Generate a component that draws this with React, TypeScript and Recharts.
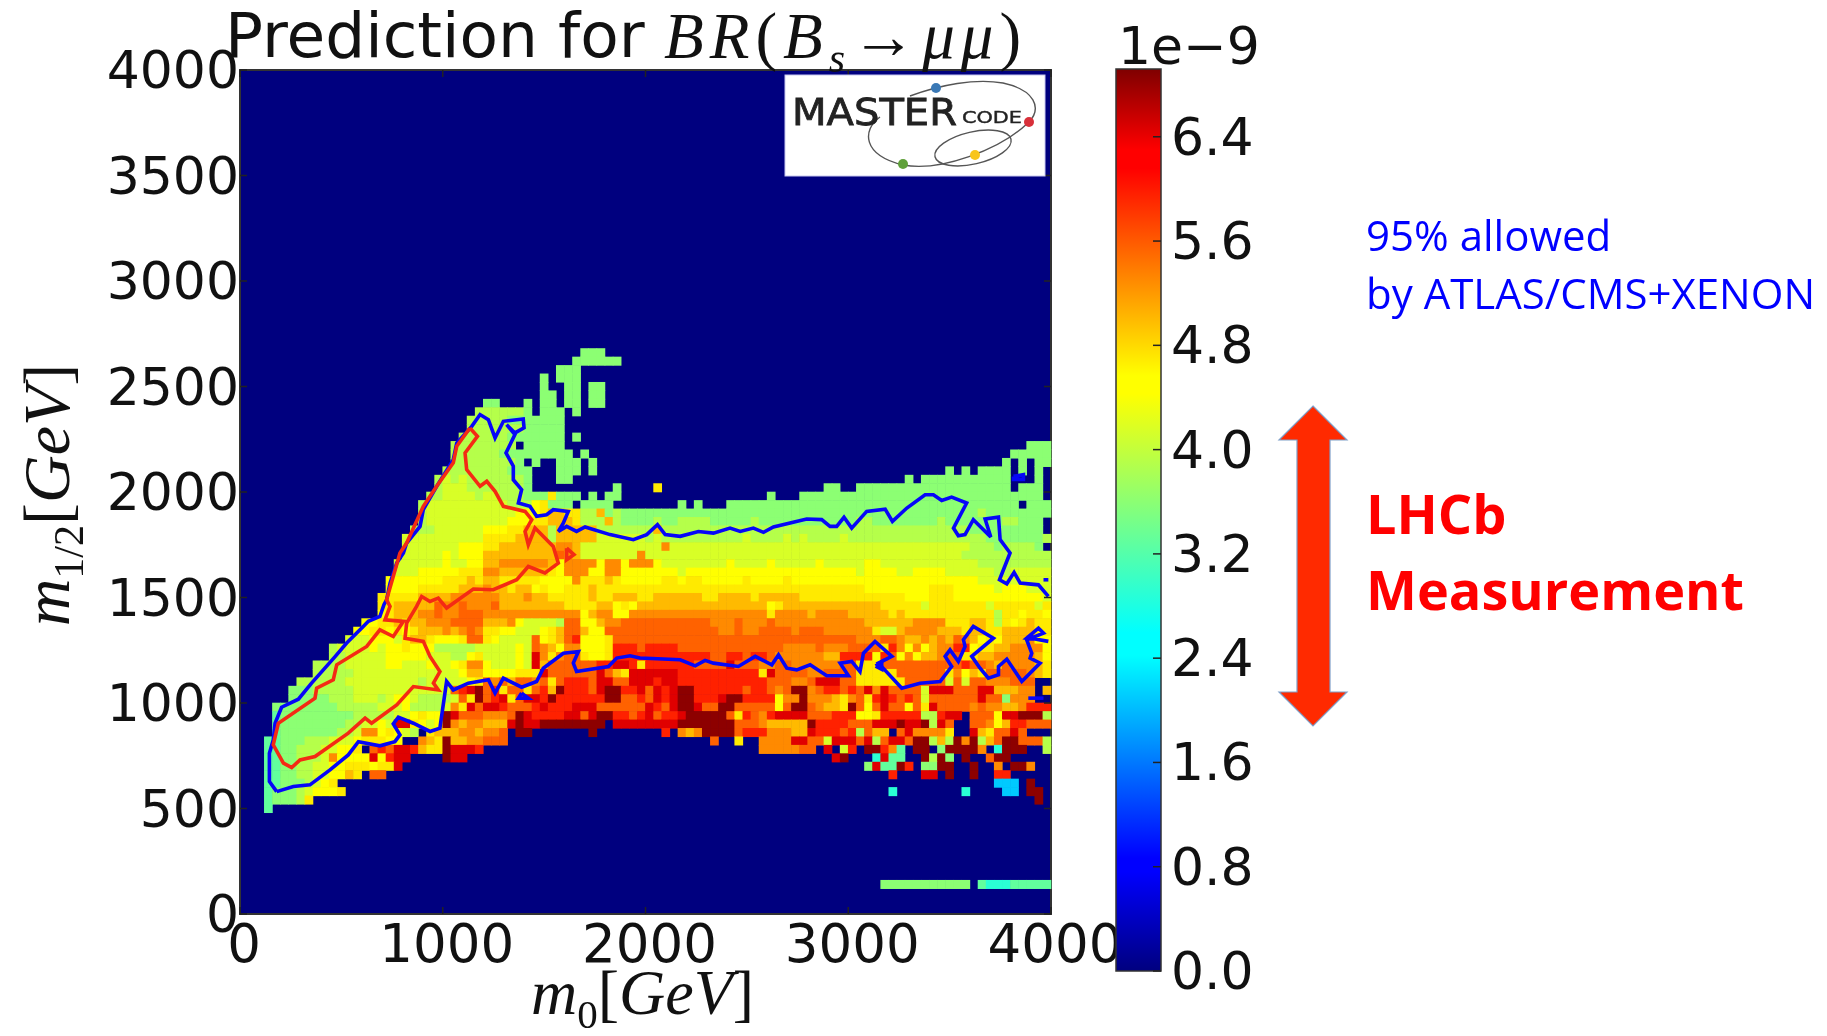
import React from 'react';
import {
  BarChart,
  Bar,
  ScatterChart,
  Scatter,
  XAxis,
  YAxis,
  CartesianGrid,
  ReferenceArea,
} from 'recharts';

const xTicks = [0, 1000, 2000, 3000, 4000];
const yTicks = [0, 500, 1000, 1500, 2000, 2500, 3000, 3500, 4000];
const barTicks = [0, 0.8, 1.6, 2.4, 3.2, 4.0, 4.8, 5.6, 6.4];
const barMax = 6.92;
const binSize = 40;

// BR in units of 1e-9 for each letter in the rows below, '.' means no point
const levels: Record<string, number> = {
  a: 2.1, b: 2.9, c: 3.3, d: 3.6, e: 3.9, f: 4.15, g: 4.45,
  h: 4.7, i: 5.0, j: 5.3, k: 5.55, l: 5.95, m: 6.45, n: 6.85,
};

// [m1/2 bin, values per m0 bin in groups of ten]
const heatRows: [number, string][] = [
  [66, '.......... .......... .......... .......... ..ddd.....'],
  [65, '.......... .......... .......... .......... .dddddd...'],
  [64, '.......... .......... .......... .........d dd........'],
  [63, '.......... .......... .......... .......d.d dd........'],
  [62, '.......... .......... .......... .......d.. dd.dd.....'],
  [61, '.......... .......... .......... .......dd. dd.dd.....'],
  [60, '.......... .......... .......... dd...d.dd. dd.dd.....'],
  [59, '.......... .......... .........e eeeeed.ddd .d........'],
  [58, '.......... .......... ........ee eeeddddddd'],
  [57, '.......... .......... ........ee eeeeeddddd'],
  [56, '.......... .......... .......eee eeeddddddd .d........'],
  [55, '.......... .......... ......eeee eeee.ddddd .......... .......... .......... .......... .......... .......ddd'],
  [54, '.......... .......... ......eeee eedddddddd d.d....... .......... .......... .......... .......... .....ddddd'],
  [53, '.......... .......... ......eeee eeeed.d..d dd.d...... .......... .......... .......... .......... ....d.d.dd'],
  [52, '.......... .......... .....eeeee eeeddd...d dd.d...... .......... .......... .......... .......d.d .dddd.d.d.'],
  [51, '.......... .......... ....efefee eeeeed...d d......... .......... .......... .......... ..d.dddddd ddddd...d.'],
  [50, '.......... .......... ....efffee eeeeed.... ......d... .h........ .......... ..dd..dddd dddddddddd ddddd.ddd.'],
  [49, '.......... .......... ...eeffffe ffeeedddhd dd.d.dd... .......... .....d...d dddddddddd dddddddddd ddddddddd.'],
  [48, '.......... .......... ..efffffff fffeeeghdd d.dddd.... ....d.d... dddddddddd dddddddddd dddddddddd dddddd.ddd'],
  [47, '.......... .......... ..efffffff ffffggghii hheeideddd dddddddddd dddddddddd dddddddddd dddddddddd dedddddddd'],
  [46, '.......... .......... ..efffffff fffggghhii iheeeieddd deddeeeedd dddedddddd ddddddeedd ddddddeddd ddddeeddd.'],
  [45, '.......... .......... .eeeffffff ggghhiiiei iiiieeeeee eieeeeeeee eeeeeeeeee eeeeeeeeee eeeeeeeeee ddddddddd.'],
  [44, '.......... .......... ffffffffff hhhhiiiiei iiiiffffff efeeeeeeee eefeeeefef eeeefeeeee eeeeeeeeee eeddddddde'],
  [43, '.......... .......... fffffffggg hhiiiiiiij jiffffffff ffjfffffff ffffffffff ffffffffff ffffffffff eeedeeeed.'],
  [42, '.......... .......... fffffgfggg iiiiiiiiik jifffffffj ffffffffff ffffffffff ffffffffff fffffffffe eeeeeeeeee'],
  [41, '.......... .........f fffffgffgg iijjjjjjig jjjjgjjgjj jgffffffff gffffgffff fgfffffggf ffffffffff feeeeeeeee'],
  [40, '.......... .........f ffggggghhh jjiiiiiihg jjjggjjggg ggggfggggg gggggggggg ggggggfggg gffggggfff fffeefffff'],
  [39, '.......... ........gg ggggghhhih iihhhhhggg gjhhhihggg gghhghhggg gghgggghgg gggggggggg gggggggggg gfffffffff'],
  [38, '.......... ........gg gghhhhhiii jiihiighgg hhhihhhhhh hhhhhhhhhh hhhhhhhhhh hhhhhhhggg ggggghhhgg gggfgggfff'],
  [37, '.......... .......hhh hhiiiijjjj jjiiijiihh hhhihhiiih hiiiiiihhi iiihiiiiih hhhhhhhhhh hhggghhhgg gggggggggf'],
  [36, '.......... .......hhi iiiikjjkjj jkiiiiiiii hhhhiighgi iiiiiiiiii iiiiighiii iiiiiiiiih hhhhfhhhhh hhfhhhhhfh'],
  [35, '.......... .......ghi iijjkjjkkk jjjjjjjjjj jjgijjggjj jjjjjjjjjj jjjjjhjjjj ijjjjiiiii hihhhhhhhh hhhehhghhg'],
  [34, '.......... .....gghhi hiijjjkkkk iiijgffffe kkggijjkkk kkkkkkkkjj jkjjjkjjjj jjjjjjjiii iiijjjjhhh iihehghihh'],
  [33, '.......... ....gghhgh ghiiijijkj hhggfffghi kkiggkkkkk kkkkkkkkkj jkjjkkkkjk kkjjjjjjhf fijjjjiiih iihhiiiihh'],
  [32, '.......... ...fffgggf hiihggghkk hgffffkghi klggghkkkk kkkkkkkkkk kkkkkkkkkk kkkkkkjjjk kjiijijikj ighgiiijgg'],
  [31, '.......... .effffgfgg hgggeeeeef ffffgfkjig jjggghlllk llllkkkkkk kkkkkkkjjj jkjjjkkkkh ljgjgijjll ghhiijjjjg'],
  [30, '.......... .eefffffgg gggfffeegh ffffgfmjhj kkhgghllll llllllllkk llkllkjjjj jjiillllgl kgjgiijkkh hiijjjjjig'],
  [29, '.........e eeefffffgg fffgffghjj gfffgfmikk kkkkllmmlh llllllkkkk mkkkjjkkjj jjjjkkhhhk kkkkkkkkkl kkjikjjjih'],
  [28, '.........e eeeeffffff fffffffgii gggghhhmkk kkkkmkihmm mmmmllllll llllhmkkkk jjkkkkhhhh hkkkkkkhjg ihkkkkkjih'],
  [27, '.......eee eeefffffff ffefffffgh kjkikkjkhk lllkmmkkmm mlmmllllll lllllkkkjj kmmmkkhhhh hhkkkkkfkf kkjjjkkk..'],
  [26, '......ddde eeeeffffff ffffffklmn klhkkhklin lllkmnnllm kmlmnnllll llkllkjknn jkllklkmjm kkkkfmmmkk kmmiiijj.i'],
  [25, '......dddd deeefffefg gfeeeefkhn klmhkmmlnl lllllnnkkl kmlmnnlllm nnllllgjjn jjjihjkhlm lklkfkkkkk kmkkdjjj..'],
  [24, '....dddddd ddeeeeefff geeeefjhmk mmlkkklmll lmmmkkkkkk mlkmnnmkkn nkkkkkgknn kjiihnkgkm kkgkhmkkkk jkjjiijlll'],
  [23, '....cddddd ddddeeeeef fghggnmkkk jjjknmllll mmkmnnllkl mkllmnnnnn khlkjlmmmm kkklllgghl lllleelmm. kkkgmmnnne'],
  [22, '....cddddd dddeeffgfm mhgfgnjijj iiimnmmnnn nnnnn.mmmm mmmmnnnnnn nkkkjiiiii nllllkkkmm mnmmnemk.. kkjgillkkk'],
  [21, '....cddddd ddeefjjghg fe.hiiijji jjk.nn.... ...n...... ..l.jijnnn nkllljjjii mlllklekii .kmjjjjh.. mihkkmk...'],
  [20, '...ccdddee efffghhhgg ..jihniijj kkk....... .......... ........k. .h..jjjjmm kkfmmmkmek mmknneienj neiknnkkke'],
  [19, '...ccddeee ffggh.klkm mlihhnmmml .......... .......... .......... ....jjjjjk k.m.fl.nnl jc.nn.dnnn nj.bnnn..e'],
  [18, '...ccddeee fjggggmglm m....nmm.. .......... .......... .......... .......... ...mn...bm cc..nend.n ..knn.....'],
  [17, '...ccddeef fgghhhghhm .......... .......... .......... .......... .......... .......dmc cnl.ddnn.. n..j.nnj..'],
  [16, '...ccddeef fggih.kk.. .......... .......... .......... .......... .......... .......... l...mm.n.. n..ll.....'],
  [15, '...ccdddef gh........ .......... .......... .......... .......... .......... .......... .......... ...aaa.n..'],
  [14, '...cdddefg ggh....... .......... .......... .......... .......... .......... .......... b........b ....aa.nn.'],
  [13, '...cdddeh. .......... .......... .......... .......... .......... .......... .......... .......... ........n.'],
  [12, '...c......'],
  [3, '.......... .......... .......... .......... .......... .......... .......... .........d dddddddddd .cbbbccccc'],
];

// contours, as [m0, m1/2]
const blueContour = [
  [181, 580], [145, 628], [145, 762], [164, 825], [173, 904], [205, 980], [288, 1018], [353, 1094], [469, 1220],
  [526, 1284], [608, 1363], [633, 1387], [690, 1410], [710, 1466], [723, 1489], [740, 1568], [773, 1663], [806, 1711],
  [822, 1758], [888, 1837], [904, 1916], [970, 2027], [1052, 2153], [1069, 2232], [1143, 2311], [1184, 2367],
  [1225, 2343], [1258, 2256], [1299, 2335], [1397, 2346], [1401, 2304], [1356, 2280], [1315, 2319], [1356, 2272],
  [1312, 2185], [1348, 2122], [1348, 2058], [1389, 2011], [1373, 1948], [1430, 1932], [1463, 1885], [1512, 1892],
  [1545, 1916], [1619, 1908], [1595, 1853], [1570, 1813], [1611, 1837], [1660, 1813], [1702, 1834], [1825, 1798],
  [1940, 1774], [2006, 1798], [2059, 1845], [2097, 1798], [2171, 1790], [2261, 1813], [2335, 1805], [2417, 1829],
  [2467, 1813], [2532, 1829], [2582, 1809], [2631, 1834], [2795, 1872], [2869, 1869], [2910, 1837], [2943, 1837],
  [2979, 1880], [3017, 1829], [3091, 1908], [3182, 1919], [3218, 1861], [3289, 1924], [3379, 1987], [3420, 1987],
  [3461, 1960], [3510, 1976], [3584, 1948], [3519, 1829], [3543, 1793], [3576, 1798], [3617, 1869], [3703, 1787],
  [3675, 1872], [3741, 1881], [3749, 1774], [3798, 1711], [3746, 1584], [3782, 1565], [3818, 1619], [3848, 1568],
  [3938, 1560], [3987, 1505],
];
const blueLower = [
  [3987, 1292], [3921, 1303], [3880, 1307], [3938, 1355], [3963, 1331], [3880, 1300],
  [3905, 1236], [3897, 1213], [3946, 1189], [3856, 1102], [3782, 1208], [3741, 1173], [3741, 1134], [3691, 1118],
  [3650, 1165], [3609, 1221], [3716, 1307], [3617, 1363], [3568, 1300], [3576, 1268], [3543, 1197], [3502, 1252],
  [3478, 1221], [3510, 1173], [3453, 1102], [3354, 1094], [3264, 1070], [3149, 1189], [3215, 1221], [3132, 1292],
  [3075, 1236], [3058, 1149], [3017, 1197], [2960, 1189], [3001, 1129], [2894, 1129], [2812, 1181], [2746, 1157],
  [2697, 1165], [2656, 1228], [2623, 1181], [2541, 1221], [2458, 1173], [2335, 1189], [2294, 1202], [2245, 1176],
  [2171, 1205], [1973, 1213], [1924, 1224], [1858, 1213], [1817, 1173], [1660, 1149], [1644, 1189], [1669, 1244],
  [1595, 1236], [1496, 1165], [1463, 1102], [1389, 1075], [1299, 1118], [1258, 1047], [1225, 1110], [1126, 1094],
  [1052, 1062], [1019, 1102], [986, 881], [937, 865], [855, 904], [781, 933], [756, 901], [789, 849], [764, 817],
  [690, 797], [584, 817], [534, 754], [444, 683], [345, 612], [263, 604], [181, 580],
];
const blueIslandA = [[1389, 1047], [1422, 1023], [1373, 1023], [1389, 1047]];
const blueIslandB = [[3815, 2074], [3864, 2082], [3864, 2060], [3815, 2060], [3815, 2074]];
const blueIslandC = [[3888, 1023], [3963, 1023]];
const blueIslandD = [[3963, 1584], [3987, 1584]];
const blueIslandE = [[3135, 1175], [3165, 1195], [3165, 1160], [3135, 1175]];

const redContour = [
  [1134, 2303], [1171, 2264], [1110, 2185], [1118, 2106], [1184, 2027], [1217, 2051], [1258, 2003], [1299, 1932],
  [1406, 1908], [1439, 1869], [1406, 1813], [1422, 1750], [1455, 1829], [1545, 1742], [1570, 1663], [1504, 1616],
  [1422, 1647], [1365, 1584], [1249, 1537], [1151, 1540], [1019, 1450], [978, 1497], [937, 1481], [896, 1505],
  [871, 1458], [822, 1379], [814, 1307], [904, 1292], [937, 1221], [986, 1149], [954, 1094], [978, 1062], [855, 1078],
  [773, 991], [649, 904], [617, 928], [534, 857], [370, 746], [296, 730], [255, 694], [214, 715], [164, 802],
  [189, 904], [370, 1023], [378, 1070], [460, 1110], [477, 1181], [625, 1268], [690, 1347], [756, 1315], [806, 1387],
  [715, 1394], [740, 1458], [723, 1489], [789, 1711], [822, 1758], [904, 1932], [970, 2027], [1052, 2138],
  [1069, 2217], [1134, 2303],
];
const redIsland = [[1611, 1734], [1647, 1703], [1611, 1679], [1611, 1734]];

const barData = [{ name: 'BR', value: barMax }];

const plotW = 811;
const plotH = 844;
const sans = '"DejaVu Sans", sans-serif';
const serif = '"Liberation Serif", serif';
const blue = '#0606f8';
const red = '#f42a14';

// matplotlib jet
const jetStops: [number, string][] = [
  [0, '#00007f'], [0.11, '#0000ff'], [0.125, '#0000ff'], [0.35, '#00ffff'], [0.375, '#00ffff'],
  [0.64, '#ffff00'], [0.66, '#ffff00'], [0.89, '#ff0000'], [0.91, '#ff0000'], [1, '#7f0000'],
];

const jet = (t: number) => {
  for (let i = 1; i < jetStops.length; i++) {
    if (t <= jetStops[i][0]) {
      const [t0, c0] = jetStops[i - 1];
      const [t1, c1] = jetStops[i];
      const f = (t - t0) / (t1 - t0);
      const mix = (p: number) => {
        const a = parseInt(c0.slice(p, p + 2), 16);
        const b = parseInt(c1.slice(p, p + 2), 16);
        return Math.round(a + (b - a) * f);
      };
      return `rgb(${mix(1)},${mix(3)},${mix(5)})`;
    }
  }
  return '#7f0000';
};

const cells = heatRows.flatMap(([row, text]) => {
  const chars = text.replace(/ /g, '');
  return Array.from(chars).flatMap((ch, col) =>
    ch === '.' ? [] : [{ m0: (col + 0.5) * binSize, m12: (row + 0.5) * binSize, br: levels[ch] }],
  );
});

const toPoints = (list: number[][]) => list.map(([m0, m12]) => ({ m0, m12 }));

const CellShape = (props: any) => {
  const w = plotW / 100 + 0.6;
  const h = plotH / 100 + 0.6;
  return <rect x={props.cx - w / 2} y={props.cy - h / 2} width={w} height={h} fill={jet(props.payload.br / barMax)} />;
};

const NoDot = () => <g />;

const XTick = ({ x, y, payload }: any) => (
  <g>
    <line x1={x} x2={x} y1={y} y2={y - 7} stroke="#222" strokeWidth={1.5} />
    <line x1={x} x2={x} y1={y - plotH} y2={y - plotH + 7} stroke="#222" strokeWidth={1.5} />
    <text x={x + 4} y={y + 29} textAnchor="middle" dominantBaseline="central" fontSize={53} fontFamily={sans} fill="#111">
      {payload.value}
    </text>
  </g>
);

const YTick = ({ x, y, payload }: any) => (
  <g>
    <line x1={x} x2={x + 7} y1={y} y2={y} stroke="#222" strokeWidth={1.5} />
    <line x1={x + plotW} x2={x + plotW - 7} y1={y} y2={y} stroke="#222" strokeWidth={1.5} />
    <text x={x - 1} y={y} textAnchor="end" dominantBaseline="central" fontSize={52} fontFamily={sans} fill="#111">
      {payload.value}
    </text>
  </g>
);

const BarTick = ({ x, y, payload }: any) => (
  <g>
    <line x1={x - 8} x2={x} y1={y} y2={y} stroke="#222" strokeWidth={1.5} />
    <text x={x + 10} y={y} textAnchor="start" dominantBaseline="central" fontSize={52} fontFamily={sans} fill="#111">
      {payload.value.toFixed(1)}
    </text>
  </g>
);

const contourLine = (list: number[][], stroke: string, key: string) => (
  <Scatter
    key={key}
    data={toPoints(list)}
    line={{ stroke, strokeWidth: 3.6 }}
    shape={<NoDot />}
    isAnimationActive={false}
  />
);

const MapChart = () => (
  <ScatterChart width={1200} height={1036} margin={{ top: 70, right: 149, bottom: 0, left: 0 }}>
    <CartesianGrid fill="#00007f" horizontal={false} vertical={false} />
    <XAxis
      type="number"
      dataKey="m0"
      domain={[0, 4000]}
      ticks={xTicks}
      height={122}
      axisLine={false}
      tickLine={false}
      tickSize={0}
      tickMargin={0}
      interval={0}
      tick={<XTick />}
    />
    <YAxis
      type="number"
      dataKey="m12"
      domain={[0, 4000]}
      ticks={yTicks}
      width={240}
      axisLine={false}
      tickLine={false}
      tickSize={0}
      tickMargin={0}
      interval={0}
      tick={<YTick />}
    />
    <Scatter data={cells} shape={<CellShape />} isAnimationActive={false} />
    {contourLine(blueContour, blue, 'blue')}
    {contourLine(blueLower, blue, 'blueLower')}
    {contourLine(blueIslandA, blue, 'blueA')}
    {contourLine(blueIslandB, blue, 'blueB')}
    {contourLine(blueIslandC, blue, 'blueC')}
    {contourLine(blueIslandD, blue, 'blueD')}
    {contourLine(blueIslandE, blue, 'blueE')}
    {contourLine(redContour, red, 'red')}
    {contourLine(redIsland, red, 'redIsland')}
    <ReferenceArea x1={0} x2={4000} y1={0} y2={4000} fill="none" stroke="#333" strokeWidth={2} />
  </ScatterChart>
);

const ColorBar = () => (
  <BarChart width={210} height={1036} data={barData} barCategoryGap={0} margin={{ top: 69, right: 0, bottom: 65, left: 16 }}>
    <defs>
      <linearGradient id="jetBar" x1="0" y1="1" x2="0" y2="0">
        {jetStops.map(([t, c]) => (
          <stop key={t} offset={t} stopColor={c} />
        ))}
      </linearGradient>
    </defs>
    <XAxis dataKey="name" hide />
    <YAxis
      orientation="right"
      type="number"
      domain={[0, barMax]}
      ticks={barTicks}
      width={149}
      axisLine={false}
      tickLine={false}
      tickSize={0}
      tickMargin={0}
      interval={0}
      tick={<BarTick />}
    />
    <Bar dataKey="value" fill="url(#jetBar)" stroke="#333" strokeWidth={1.5} isAnimationActive={false} />
  </BarChart>
);

const Overlay = () => (
  <svg width={1827} height={1036} style={{ position: 'absolute', left: 0, top: 0, pointerEvents: 'none' }}>
    <rect x={785} y={75} width={260} height={101} fill="#fff" stroke="#c8c8f0" strokeWidth={1} />
    <path
      d="M880 117 C862 130 862 155 903 165 C940 172 1000 150 1029 122 C1042 108 1035 90 1003 83 C975 78 940 85 910 96"
      fill="none"
      stroke="#555"
      strokeWidth={1.4}
    />
    <ellipse cx={973} cy={148} rx={39} ry={16} transform="rotate(-13 973 148)" fill="none" stroke="#555" strokeWidth={1.4} />
    <circle cx={936} cy={88} r={5} fill="#3a78b5" />
    <circle cx={1029} cy={122} r={5} fill="#d8303a" />
    <circle cx={975} cy={155} r={5} fill="#f8c51c" />
    <circle cx={903} cy={164} r={5} fill="#5fa03a" />
    <text x={792} y={125} fontFamily={sans} fontSize={37} textLength={165} lengthAdjust="spacingAndGlyphs" fill="#222" stroke="#222" strokeWidth={0.8}>
      MASTER
    </text>
    <text x={962} y={123} fontFamily={sans} fontSize={16} textLength={60} lengthAdjust="spacingAndGlyphs" fill="#222" stroke="#222" strokeWidth={0.4}>
      CODE
    </text>
    <polygon
      points="1313,406 1347,440 1330,440 1330,692 1347,692 1313,726 1279,692 1297,692 1297,440 1279,440"
      fill="#ff2a00"
      stroke="#7f9fc8"
      strokeWidth={1.2}
    />
  </svg>
);

const label = (left: number, top: number, extra: React.CSSProperties): React.CSSProperties => ({
  position: 'absolute',
  left,
  top,
  whiteSpace: 'nowrap',
  lineHeight: 1,
  ...extra,
});

const upright: React.CSSProperties = { fontStyle: 'normal' };

export default function App() {
  return (
    <div style={{ position: 'relative', width: 1827, height: 1036, margin: -8, overflow: 'hidden', background: '#fff', filter: 'blur(0.6px)' }}>
      <div style={{ position: 'absolute', left: 0, top: 0 }}>
        <MapChart />
      </div>
      <div style={{ position: 'absolute', left: 1100, top: 0 }}>
        <ColorBar />
      </div>
      <Overlay />
      <div style={label(225, 4, { fontFamily: sans, fontSize: 63, color: '#111' })}>Prediction for</div>
      <div style={label(664, 4, { fontFamily: serif, fontStyle: 'italic', fontSize: 65, letterSpacing: 6, color: '#111' })}>
        BR<span style={upright}>(</span>B<sub style={{ fontSize: 42, lineHeight: 0 }}>s</sub>→μμ<span style={upright}>)</span>
      </div>
      <div style={label(1118, 20, { fontFamily: sans, fontSize: 52, color: '#111' })}>1e−9</div>
      <div style={label(531, 961, { fontFamily: serif, fontStyle: 'italic', fontSize: 64, color: '#111' })}>
        m<sub style={{ fontSize: 41, lineHeight: 0, fontStyle: 'normal' }}>0</sub>
        <span style={upright}>[</span>GeV<span style={upright}>]</span>
      </div>
      <div
        style={label(47, 495, {
          fontFamily: serif,
          fontStyle: 'italic',
          fontSize: 66,
          color: '#111',
          transform: 'translate(-50%, -50%) rotate(-90deg)',
        })}
      >
        m<sub style={{ fontSize: 42, lineHeight: 0, fontStyle: 'normal' }}>1/2</sub>
        <span style={upright}>[</span>GeV<span style={upright}>]</span>
      </div>
      <div style={label(1366, 214, { fontFamily: '"Open Sans", sans-serif', fontSize: 42, color: '#0000ff' })}>95% allowed</div>
      <div style={label(1366, 272, { fontFamily: '"Open Sans", sans-serif', fontSize: 42, color: '#0000ff' })}>by ATLAS/CMS+XENON</div>
      <div style={label(1366, 486, { fontFamily: '"Open Sans", sans-serif', fontWeight: 700, fontSize: 54, color: '#ff0000' })}>LHCb</div>
      <div style={label(1366, 562, { fontFamily: '"Open Sans", sans-serif', fontWeight: 700, fontSize: 54, color: '#ff0000' })}>Measurement</div>
    </div>
  );
}
